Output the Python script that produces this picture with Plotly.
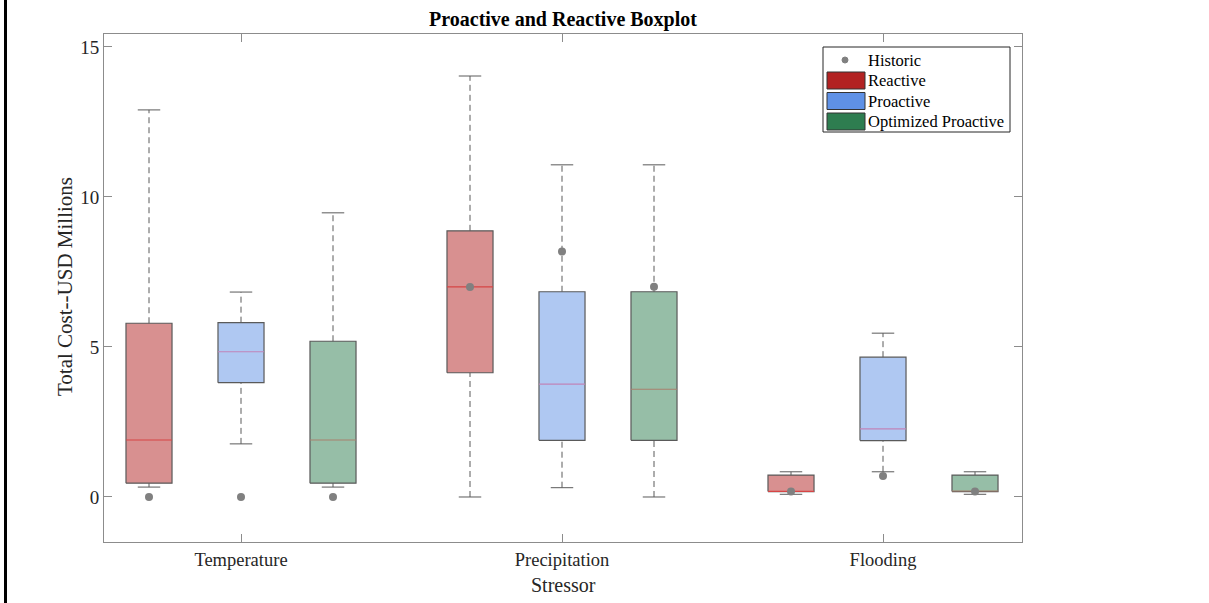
import plotly.graph_objects as go

# ---------------- data ----------------
categories = ["Temperature", "Precipitation", "Flooding"]
series = ["Reactive", "Proactive", "Optimized Proactive"]

# per series: values for [Temperature, Precipitation, Flooding]
upper_whisker = {
    "Reactive":            [12.90, 14.03, 0.84],
    "Proactive":           [6.83, 11.07, 5.46],
    "Optimized Proactive": [9.47, 11.07, 0.84],
}
q3_values = {
    "Reactive":            [5.79, 8.87, 0.73],
    "Proactive":           [5.81, 6.84, 4.66],
    "Optimized Proactive": [5.19, 6.84, 0.73],
}
median_values = {
    "Reactive":            [1.90, 7.00, 0.19],
    "Proactive":           [4.84, 3.76, 2.27],
    "Optimized Proactive": [1.90, 3.59, 0.20],
}
q1_values = {
    "Reactive":            [0.46, 4.14, 0.18],
    "Proactive":           [3.81, 1.89, 1.88],
    "Optimized Proactive": [0.46, 1.89, 0.18],
}
lower_whisker = {
    "Reactive":            [0.33, 0.00, 0.09],
    "Proactive":           [1.77, 0.31, 0.84],
    "Optimized Proactive": [0.33, 0.00, 0.09],
}
historic = {
    "Reactive":            [0.00, 7.00, 0.18],
    "Proactive":           [0.00, 8.18, 0.70],
    "Optimized Proactive": [0.00, 7.01, 0.18],
}

y_ticks = [0, 5, 10, 15]

# ---------------- style ----------------
FONT = "Liberation Serif, Times New Roman, serif"
legend_colors = {"Reactive": "#B22222", "Proactive": "#5F91E6", "Optimized Proactive": "#2E7D50"}
fill_colors = {"Reactive": "rgba(178,34,34,0.5)", "Proactive": "rgba(95,145,230,0.5)",
               "Optimized Proactive": "rgba(46,125,80,0.5)"}
median_colors = {"Reactive": "#D64545", "Proactive": "#C084B8", "Optimized Proactive": "#A8806E"}
outline = "#5A5A5A"
offsets = {"Reactive": -0.2866, "Proactive": 0.0, "Optimized Proactive": 0.2866}
half_w = 0.0717
cap_w = 0.035

fig = go.Figure()

for s in series:
    for i, cat in enumerate(categories):
        xc = i + 1 + offsets[s]
        q1, q3 = q1_values[s][i], q3_values[s][i]
        med = median_values[s][i]
        lo, hi = lower_whisker[s][i], upper_whisker[s][i]
        # whiskers (dashed)
        fig.add_trace(go.Scatter(x=[xc, xc, None, xc, xc], y=[q3, hi, None, lo, q1],
                                 mode="lines", line=dict(color=outline, width=1, dash="6px,4px"),
                                 showlegend=False, hoverinfo="skip"))
        # caps
        fig.add_trace(go.Scatter(x=[xc - cap_w, xc + cap_w, None, xc - cap_w, xc + cap_w],
                                 y=[hi, hi, None, lo, lo],
                                 mode="lines", line=dict(color=outline, width=1),
                                 showlegend=False, hoverinfo="skip"))
        # box
        fig.add_trace(go.Scatter(x=[xc - half_w, xc + half_w, xc + half_w, xc - half_w, xc - half_w],
                                 y=[q1, q1, q3, q3, q1], mode="lines", fill="toself",
                                 fillcolor=fill_colors[s], line=dict(color=outline, width=1.2),
                                 showlegend=False, hoverinfo="skip"))
        # median
        fig.add_trace(go.Scatter(x=[xc - half_w, xc + half_w], y=[med, med], mode="lines",
                                 line=dict(color=median_colors[s], width=1.2),
                                 showlegend=False, hoverinfo="skip"))

# historic points
hx, hy = [], []
for s in series:
    for i in range(len(categories)):
        hx.append(i + 1 + offsets[s])
        hy.append(historic[s][i])
fig.add_trace(go.Scatter(x=hx, y=hy, mode="markers", name="Historic",
                         marker=dict(color="#808080", size=8), showlegend=False))

# ---------------- layout ----------------
W, H = 1209, 603
L, R, T, B = 104, 1022, 34, 542


def px(xp):
    return (xp - L) / (R - L)


def py(yp):
    return (B - yp) / (B - T)


shapes = []
annotations = []
# left black border line
shapes.append(dict(type="line", xref="paper", yref="paper", x0=px(5.5), x1=px(5.5),
                   y0=py(603), y1=py(0), line=dict(color="black", width=3)))
# legend box
shapes.append(dict(type="rect", xref="paper", yref="paper", x0=px(823), x1=px(1010),
                   y0=py(132), y1=py(47), line=dict(color="#262626", width=1), fillcolor="white"))
rows = [("Historic", 60), ("Reactive", 80.5), ("Proactive", 101), ("Optimized Proactive", 121.5)]
for name, yc in rows:
    if name == "Historic":
        shapes.append(dict(type="circle", xref="paper", yref="paper", x0=px(842), x1=px(848),
                           y0=py(yc + 3), y1=py(yc - 3), line=dict(color="#808080", width=1),
                           fillcolor="#808080"))
    else:
        shapes.append(dict(type="rect", xref="paper", yref="paper", x0=px(827), x1=px(865),
                           y0=py(yc + 8.5), y1=py(yc - 8.5), line=dict(color="#333333", width=1),
                           fillcolor=legend_colors[name]))
    annotations.append(dict(xref="paper", yref="paper", x=px(866), y=py(yc), text=name,
                            showarrow=False, xanchor="left", yanchor="middle",
                            font=dict(family=FONT, size=16.5, color="#000000")))

# axis titles as annotations for exact placement
annotations.append(dict(xref="paper", yref="paper", x=0.5, y=py(585), text="Stressor",
                        showarrow=False, xanchor="center", yanchor="middle",
                        font=dict(family=FONT, size=20, color="#262626")))
annotations.append(dict(xref="paper", yref="paper", x=px(65), y=py(287), text="Total Cost--USD Millions",
                        showarrow=False, xanchor="center", yanchor="middle", textangle=-90,
                        font=dict(family=FONT, size=21, color="#262626")))

fig.update_layout(
    width=W, height=H,
    margin=dict(l=L, r=W - R, t=T, b=H - B),
    paper_bgcolor="white", plot_bgcolor="white",
    font=dict(family=FONT, size=18, color="#262626"),
    title=dict(text="<b>Proactive and Reactive Boxplot</b>", x=0.5, xref="paper",
               y=1 - 19 / H, yref="container", yanchor="middle",
               font=dict(family=FONT, size=20, color="#000000")),
    showlegend=False,
    shapes=shapes,
    annotations=annotations,
)
fig.update_xaxes(range=[0.5732, 3.433], tickvals=[1, 2, 3], ticktext=categories,
                 showline=True, linecolor="#8C8C8C", linewidth=1, mirror="ticks",
                 ticks="inside", ticklen=8, tickcolor="#8C8C8C", showgrid=False, zeroline=False,
                 tickfont=dict(family=FONT, size=18.5, color="#262626"),
                 ticklabelstandoff=1, automargin=False)
fig.update_yaxes(range=[-1.5, 15.43], tickvals=y_ticks, ticktext=[str(v) for v in y_ticks],
                 showline=True, linecolor="#8C8C8C", linewidth=1, mirror="ticks",
                 ticks="inside", ticklen=8, tickcolor="#8C8C8C", showgrid=False, zeroline=False,
                 tickfont=dict(family=FONT, size=19, color="#262626"),
                 automargin=False)

fig.write_html("out.html")
